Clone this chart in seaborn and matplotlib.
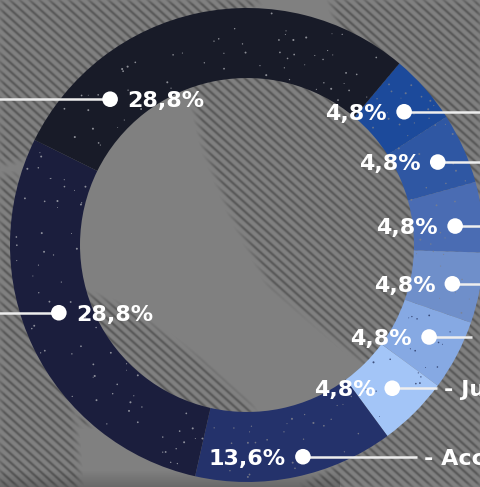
import numpy as np
import matplotlib
matplotlib.use("Agg")
import matplotlib.pyplot as plt
import seaborn as sns
from matplotlib.patches import Circle
from matplotlib.path import Path

# ---- data (clockwise order, starting at the right of the top segment) ----
categories = ["Marketing", "Finanzas", "Logística", "Ventas", "Tecnología",
              "Jurídico", "Accionistas", "Operaciones", "Dirección"]
shares = [4.8, 4.8, 4.8, 4.8, 4.8, 4.8, 13.6, 28.8, 28.8]
value_labels = ["4,8%", "4,8%", "4,8%", "4,8%", "4,8%", "4,8%", "13,6%", "28,8%", "28,8%"]
colors = ["#1c4a9b", "#2f57a3", "#4a6cb3", "#6f8fca", "#86a9e3", "#a3c5f7",
          "#24326b", "#1b1e3d", "#181b28"]

# ---- layout (pixel space, y grows downward) ----
W, H = 481, 487
CX, CY = 247, 245
R_OUT, RING = 237, 70
# dot anchor: (angle clockwise from 12 o'clock, distance from centre)
anchors = [(49.7, 206), (66.5, 208), (84.8, 209), (100.7, 209), (116.8, 204),
           (134.6, 204), (165.2, 219), (250.2, 200), (316.8, 200)]
# which side the percentage sits on, and where the leader line stops
side = ["left"] * 7 + ["right", "right"]
line_end = [520, 520, 520, 520, 472, 437, 417, -40, -40]

sns.set_theme(style="white")
plt.rcParams["font.family"] = ["DejaVu Sans"]

fig = plt.figure(figsize=(W / 100, H / 100), dpi=100)
fig.patch.set_facecolor("#808080")
ax = fig.add_axes([0, 0, 1, 1])
ax.set_facecolor("#808080")

# ---- striped backdrop texture (soft diagonal bands, masked to patches) ----
stripe_regions = [
    [(0, 0), (260, 0), (250, 10), (120, 70), (60, 150), (0, 165)],
    [(0, 175), (18, 175), (30, 290), (60, 360), (75, 420), (80, 487), (0, 487)],
    [(330, 0), (481, 0), (481, 487), (300, 487), (380, 440), (440, 380)],
    [(185, 70), (430, 70), (430, 420), (400, 392), (330, 335), (270, 285),
     (232, 215), (205, 150)],
    [(80, 290), (130, 310), (200, 360), (250, 405), (260, 425), (80, 425)],
]
yy, xx = np.mgrid[0:H, 0:W] + 0.5
pts = np.column_stack([xx.ravel(), yy.ravel()])
mask = np.zeros(H * W)
for poly in stripe_regions:
    mask = np.maximum(mask, Path(poly).contains_points(pts).astype(float))
mask = mask.reshape(H, W)
k = np.ones(9) / 9
mask = np.apply_along_axis(lambda r: np.convolve(r, k, mode="same"), 1, mask)
mask = np.apply_along_axis(lambda c: np.convolve(c, k, mode="same"), 0, mask)

ang = np.radians(42)
period = 6.6
phase = (-xx * np.sin(ang) + yy * np.cos(ang)) / period
band = (0.5 + 0.5 * np.cos(2 * np.pi * phase)) ** 2.2
tex = np.zeros((H, W, 4))
tex[..., 3] = mask * band * 0.30
ax.imshow(tex, extent=(0, W, H, 0), origin="upper", zorder=0.5,
          interpolation="nearest")

# ---- donut ----
wedges, _ = ax.pie(shares, colors=colors, radius=R_OUT, center=(CX, CY),
                   startangle=-50, counterclock=True,
                   wedgeprops=dict(width=RING, linewidth=0))
for w in wedges:
    w.set_zorder(2)

# grain on the ring
rng = np.random.default_rng(11)
n = 230
sa = rng.uniform(0, 360, n)
rad = rng.uniform(R_OUT - RING + 2, R_OUT - 2, n)
sx = CX + rad * np.sin(np.radians(sa))
sy = CY - rad * np.cos(np.radians(sa))
bounds = np.cumsum([0] + [s * 3.6 for s in shares]) + 40
rel = (sa - 40) % 360 + 40
idx = np.clip(np.searchsorted(bounds, rel) - 1, 0, len(shares) - 1)
speck_col = np.where(idx >= 7, "#b4b6bc", np.where(idx >= 4, "#1f2a55", "#7d818c"))
speck_col = np.where(idx == 6, "#8a8a90", speck_col)
ax.scatter(sx, sy, s=rng.uniform(0.4, 2.2, n), c=speck_col, linewidths=0,
           alpha=0.75, zorder=3)

# ---- leaders, dots and labels ----
for i, (theta, r) in enumerate(anchors):
    dx = CX + r * np.sin(np.radians(theta))
    dy = CY - r * np.cos(np.radians(theta))
    ax.plot([dx, line_end[i]], [dy, dy], color="#eeeeee", lw=1.8,
            solid_capstyle="butt", zorder=4)
    ax.add_patch(Circle((dx, dy), 7.8, facecolor="white", edgecolor="none",
                        zorder=5))
    if side[i] == "left":
        ax.text(dx - 17, dy + 8, value_labels[i], ha="right", va="baseline",
                color="white", fontsize=16, fontweight="bold", zorder=6)
        name_x = line_end[i] + 7
        if name_x < W:
            ax.text(name_x, dy + 8, "- " + categories[i], ha="left",
                    va="baseline", color="white", fontsize=16,
                    fontweight="bold", zorder=6, clip_on=True)
    else:
        ax.text(dx + 17, dy + 8, value_labels[i], ha="left", va="baseline",
                color="white", fontsize=16, fontweight="bold", zorder=6)

# soft shadow along the bottom edge
grad = np.zeros((20, 2, 4))
grad[..., 3] = np.linspace(0, 0.18, 20)[:, None]
ax.imshow(grad, extent=(0, 340, 487, 470), aspect="auto", zorder=1,
          interpolation="bilinear")

ax.set_xlim(0, W)
ax.set_ylim(H, 0)
ax.set_aspect("auto")
ax.axis("off")

fig.savefig("out.png", dpi=100, facecolor=fig.get_facecolor())
